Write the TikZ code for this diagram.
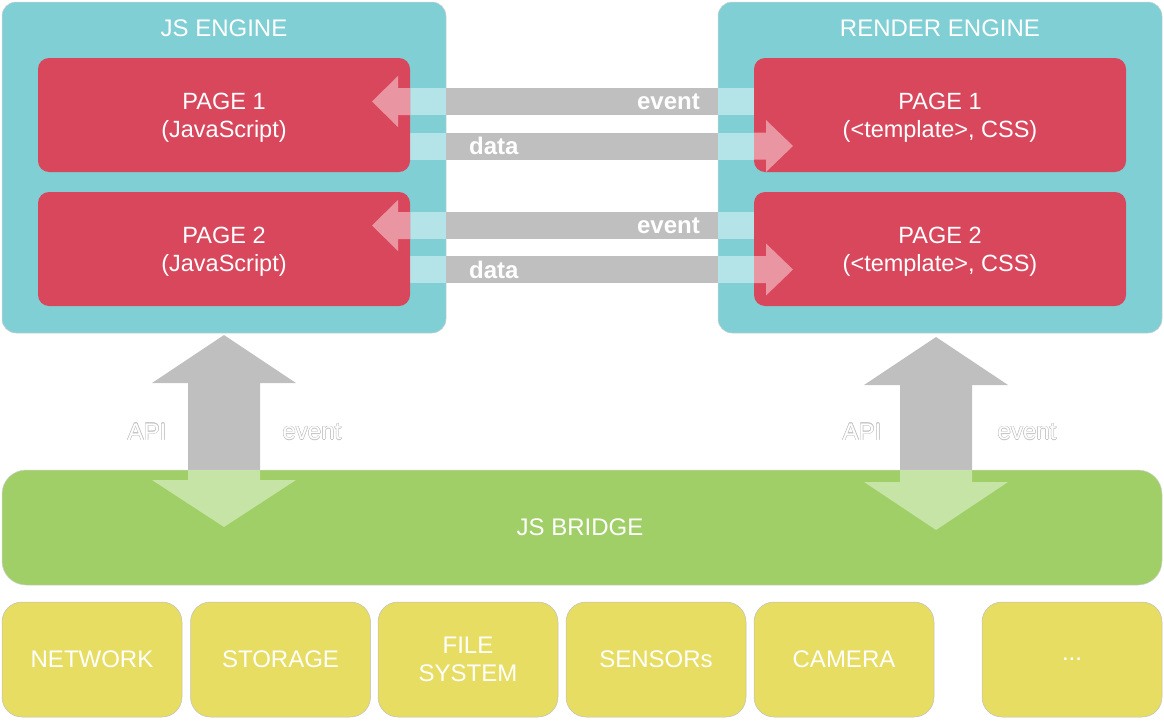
\documentclass[tikz,border=0pt]{standalone}
\usepackage{fontspec}
\setmainfont{Liberation Sans}
\definecolor{teal1}{HTML}{80CFD4}
\definecolor{red1}{HTML}{D9475C}
\definecolor{green1}{HTML}{A0CE67}
\definecolor{yellow1}{HTML}{E8DD63}
\definecolor{gray1}{HTML}{BFBFBF}
\definecolor{cyan1}{HTML}{B4E4E7}
\definecolor{pink1}{HTML}{EA96A2}
\definecolor{lgreen1}{HTML}{C6E4A6}
\tikzset{
  engine/.style={fill=teal1, draw=black!18, line width=0.5pt, rounded corners=14pt,
    minimum width=444pt, minimum height=331pt, inner sep=0pt},
  pagebox/.style={fill=red1, rounded corners=11pt, minimum width=372pt, minimum height=114pt,
    inner sep=0pt},
  pagetext/.style={text=white, align=center, inner sep=0pt, font=\fontsize{23.5}{28}\selectfont},
  titletext/.style={text=white, inner sep=0pt, font=\fontsize{24}{28}\selectfont},
  arrowtext/.style={text=white, inner sep=0pt, font=\fontsize{24}{28}\selectfont\bfseries},
  bridgebox/.style={fill=green1, draw=black!18, line width=0.5pt, rounded corners=24pt,
    minimum width=1160pt, minimum height=115pt, inner sep=0pt},
  devbox/.style={fill=yellow1, draw=black!25, line width=0.5pt, rounded corners=20pt,
    minimum width=180pt, minimum height=115pt, inner sep=0pt,
    text=white, align=center, font=\fontsize{24}{28}\selectfont},
  olbl/.style={inner sep=0pt, font=\fontsize{24}{28}\selectfont},
}
\newcommand\outlinelabel[4]{%
  \foreach \dx/\dy [count=\i] in {0.5/0,-0.5/0,0/0.5,0/-0.5,0.35/0.35,-0.35/0.35,0.35/-0.35,-0.35/-0.35}
    {\node[olbl, text=black!24] (#1o\i) at (#2+\dx,#3+\dy) {#4};}
  \node[olbl, text=white] (#1) at (#2,#3) {#4};
}
\begin{document}
\begin{tikzpicture}[x=1pt,y=-1pt]
\useasboundingbox (0,0) rectangle (1164,720);
% engines
\node[engine] (jse) at (224,167.5) {};
\node[engine] (rde) at (940,167.5) {};
\node[titletext] (jst) at (224,28.5) {JS ENGINE};
\node[titletext] (rdt) at (940,28.5) {RENDER ENGINE};
% horizontal arrows (behind pages)
\foreach \c in {101.5,225.5} {
  \fill[gray1] (446,\c-13.5) rectangle (718,\c+13.5);
  \fill[cyan1] (410,\c-13.5) rectangle (446,\c+13.5);
  \fill[cyan1] (718,\c-13.5) rectangle (754,\c+13.5);
}
\foreach \c in {146,269.5} {
  \fill[gray1] (446,\c-13.5) rectangle (718,\c+13.5);
  \fill[cyan1] (410,\c-13.5) rectangle (446,\c+13.5);
  \fill[cyan1] (718,\c-13.5) rectangle (754,\c+13.5);
}
% pages
\node[pagebox] (jp1) at (224,115) {};
\node[pagebox] (jp2) at (224,249) {};
\node[pagebox] (rp1) at (940,115) {};
\node[pagebox] (rp2) at (940,249) {};
\node[pagetext] (jp1t) at ([yshift=-3pt]jp1.center) {PAGE 1\\(JavaScript)};
\node[pagetext] (jp2t) at ([yshift=-3pt]jp2.center) {PAGE 2\\(JavaScript)};
\node[pagetext] (rp1t) at ([yshift=-3pt]rp1.center) {PAGE 1\\(<template>, CSS)};
\node[pagetext] (rp2t) at ([yshift=-3pt]rp2.center) {PAGE 2\\(<template>, CSS)};
% arrow heads over pages
\foreach \c in {101.5,225.5} {
  \fill[pink1] (410,\c-13.5) -- (398,\c-13.5) -- (398,\c-25.5) -- (372,\c) -- (398,\c+25.5) -- (398,\c+13.5) -- (410,\c+13.5) -- cycle;
}
\foreach \c in {146,269.5} {
  \fill[pink1] (754,\c-13.5) -- (766,\c-13.5) -- (766,\c-26) -- (793,\c) -- (766,\c+26) -- (766,\c+13.5) -- (754,\c+13.5) -- cycle;
}
\node[arrowtext, anchor=east] (ev1) at (700,101.5) {event};
\node[arrowtext, anchor=west] (da1) at (469,146) {data};
\node[arrowtext, anchor=east] (ev2) at (700,225.5) {event};
\node[arrowtext, anchor=west] (da2) at (469,269.5) {data};
% vertical arrows, upper part
\fill[gray1] (188,470) -- (188,383) -- (152,383) -- (224,335) -- (296,383) -- (260,383) -- (260,470) -- cycle;
\fill[gray1] (900,470) -- (900,385) -- (864,385) -- (936,337) -- (1008,385) -- (972,385) -- (972,470) -- cycle;
% bridge
\node[bridgebox] (bridge) at (582,527.5) {};
\fill[lgreen1] (188,470) -- (188,480) -- (152,480) -- (224,527) -- (296,480) -- (260,480) -- (260,470) -- cycle;
\fill[lgreen1] (900,470) -- (900,482) -- (864,482) -- (936,530) -- (1008,482) -- (972,482) -- (972,470) -- cycle;
\node[titletext] (bridget) at (580,527) {JS BRIDGE};
% outlined labels
\outlinelabel{apiL}{147}{432}{API}
\outlinelabel{evL}{312}{432}{event}
\outlinelabel{apiR}{862}{432}{API}
\outlinelabel{evR}{1027}{432}{event}
% devices
\node[devbox] (net) at (92,659.5) {NETWORK};
\node[devbox] (sto) at (280.5,659.5) {STORAGE};
\node[devbox] (fs) at (468,659.5) {FILE\\SYSTEM};
\node[devbox] (sen) at (656,659.5) {SENSORs};
\node[devbox] (cam) at (844,659.5) {CAMERA};
\node[devbox] (more) at (1072,659.5) {...};
\end{tikzpicture}
\end{document}
